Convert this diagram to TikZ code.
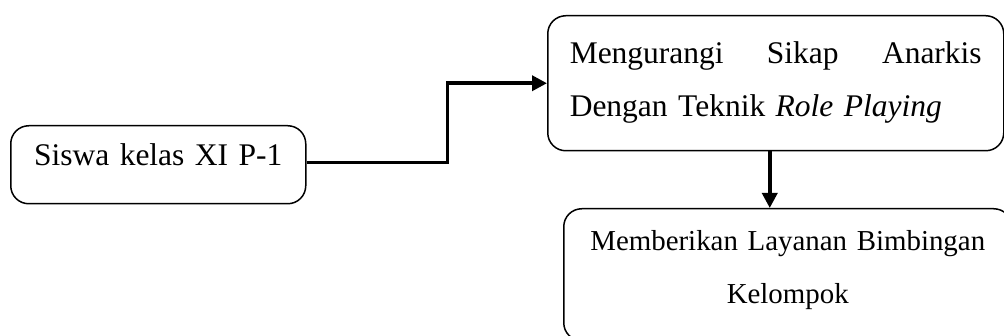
\documentclass[tikz,border=0pt]{standalone}
\usepackage{fontspec}
\setmainfont{Liberation Serif}
\usetikzlibrary{arrows.meta}

\begin{document}
\begin{tikzpicture}[x=1pt, y=-1pt,
	every node/.style={font=\fontsize{31.5}{52.5}\selectfont},
	box/.style={draw, line width=1.5pt, rounded corners=18pt, anchor=north west, inner ysep=0pt},
	flow/.style={line width=3.5pt, -{Triangle[length=15pt,width=15pt]}}]
	\useasboundingbox (0,0) rectangle (1004,336);
	\clip (0,0) rectangle (1004,336);
	\node[box, text width=295pt, inner xsep=0pt, align=center, text height=40pt, text depth=38pt]
		(siswa) at (10,125) {Siswa kelas XI P-1};
	\node[box, text width=412pt, inner xsep=22pt, align=left, text height=48pt, text depth=87pt]
		(roleplay) at (547,15) {Mengurangi\hfill Sikap\hfill Anarkis\\Dengan Teknik \textit{Role Playing}};
	\node[box, text width=448pt, inner xsep=0pt, align=center, text height=42pt, text depth=90pt,
		font=\fontsize{28.9}{52.5}\selectfont]
		(layanan) at (563,208) {Memberikan Layanan Bimbingan\\Kelompok};
	\draw[flow] ([yshift=2pt]siswa.east) -- ++(141,0) |- (roleplay.west);
	\draw[flow] ([xshift=-6pt]roleplay.south) -- ([xshift=-6pt]roleplay.south |- layanan.north);
\end{tikzpicture}
\end{document}
